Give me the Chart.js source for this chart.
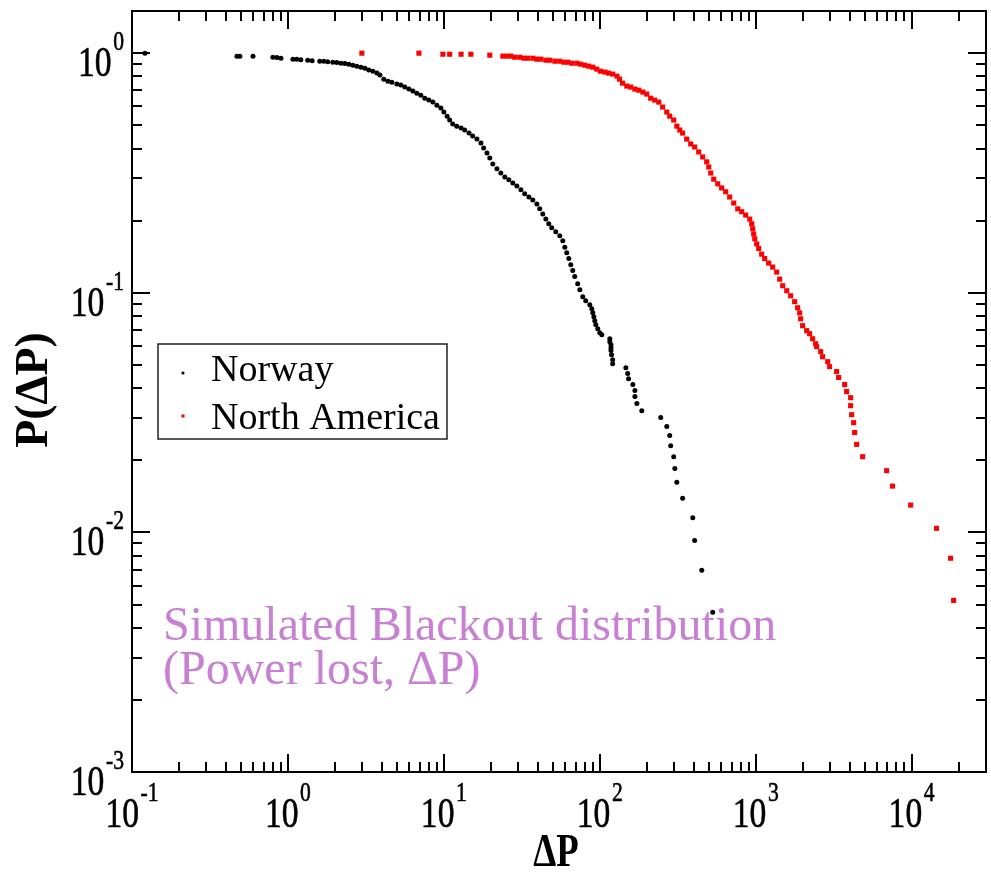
<!DOCTYPE html>
<html>
<head>
<meta charset="utf-8">
<script src="https://cdn.jsdelivr.net/npm/chart.js@4.4.0/dist/chart.umd.min.js"></script>
<style>
  html, body { margin: 0; padding: 0; background: #fff; }
</style>
</head>
<body>
<canvas id="graphique" width="991" height="872"></canvas>
<script>
// Norway: power lost (MW) and cumulative probability
const norwayDP = [0.121, 0.471, 0.492, 0.597, 0.801, 0.850, 0.902, 1.077, 1.14, 1.21,
  1.34, 1.43, 1.60, 1.70, 1.80, 1.94, 2.06, 2.19, 2.32, 2.46,
  2.61, 2.77, 2.94, 3.12, 3.30, 3.51, 3.72, 3.89, 4.12, 4.38,
  4.64, 5.0, 5.30, 5.62, 5.97, 6.33, 6.71, 7.12, 7.55, 8.01,
  8.50, 9.02, 9.57, 10.0, 10.5, 10.9, 11.4, 12.1, 12.9, 13.6,
  14.5, 15.3, 16.3, 17.3, 18.0, 18.9, 19.7, 20.6, 21.9, 23.2,
  24.6, 26.1, 27.7, 29.4, 31.2, 33.0, 35.1, 37.2, 39.5, 41.2,
  43.1, 45.1, 47.1, 49.2, 52.2, 55.4, 57.9, 59.7, 61.4, 63.3,
  65.2, 67.1, 69.1, 72.2, 74.5, 77.8, 81.3, 86.3, 88.9, 90.2,
  91.6, 92.9, 94.3, 97.1, 100, 103,
  116, 116, 118, 118, 118, 119, 121, 121,
  147, 151, 153, 163, 168, 168, 173, 186,
  246, 269, 281, 285, 298, 303, 312, 340, 395, 406, 451, 530];
const norwayP = [1.0, 0.972, 0.972, 0.97, 0.962, 0.96, 0.953, 0.944, 0.944, 0.94,
  0.935, 0.93, 0.926, 0.925, 0.92, 0.917, 0.915, 0.908, 0.905, 0.90,
  0.891, 0.883, 0.874, 0.866, 0.85, 0.841, 0.826, 0.81, 0.779, 0.764,
  0.757, 0.743, 0.736, 0.722, 0.708, 0.695, 0.681, 0.668, 0.649, 0.637,
  0.625, 0.607, 0.590, 0.568, 0.546, 0.526, 0.506, 0.496, 0.487, 0.478,
  0.464, 0.451, 0.438, 0.422, 0.402, 0.383, 0.365, 0.345, 0.329, 0.316,
  0.304, 0.296, 0.287, 0.279, 0.269, 0.259, 0.251, 0.244, 0.235, 0.224,
  0.213, 0.203, 0.194, 0.187, 0.180, 0.173, 0.165, 0.155, 0.147, 0.139,
  0.131, 0.124, 0.117, 0.109, 0.103, 0.0962, 0.0926, 0.0891, 0.0858, 0.0825,
  0.0794, 0.0764, 0.0736, 0.0708, 0.0681, 0.0668,
  0.0643, 0.0625, 0.0607, 0.059, 0.0574, 0.0552, 0.0526, 0.0506,
  0.0487, 0.046, 0.0438, 0.0414, 0.0391, 0.0369, 0.0345, 0.0322,
  0.0302, 0.0277, 0.0254, 0.023, 0.0207, 0.0185, 0.0162, 0.0139, 0.0115, 0.00926, 0.00695, 0.00464];

// North America
const naDP = [2.98, 6.92, 9.86, 10.9, 12.9, 14.9, 19.7, 23.9, 25.4, 26.9,
  28.5, 30.7, 32.6, 34.5, 37.2, 39.5, 41.9, 45.1, 47.8, 51.5,
  55.4, 58.8, 62.4, 66.2, 71.3, 75.5, 80.2, 85.0, 90.2, 95.7,
  101, 108, 114, 121, 129, 134, 140, 149, 158, 168,
  178, 189, 200, 212, 225, 239, 253, 269, 281, 298,
  312, 326, 340, 361, 383, 406, 431, 457, 485, 500,
  515, 538, 571, 605, 642, 681, 723, 767, 813, 863,
  916, 943, 957, 971, 986, 1015, 1045, 1092, 1142, 1211,
  1285, 1364, 1426, 1490, 1581, 1676, 1778, 1858, 1914, 1941,
  2000, 2123, 2218, 2318, 2424, 2460, 2612, 2687, 2897, 2980,
  3304, 3404, 3720, 3830, 4064, 4064, 4125, 4249, 4313, 4440,
  4853, 6914, 7550, 9860, 14450, 17780, 18600];
const naP = [1.0, 1.0, 0.99, 0.99, 0.99, 0.99, 0.981, 0.972, 0.972, 0.972,
  0.962, 0.962, 0.953, 0.953, 0.953, 0.944, 0.944, 0.935, 0.935, 0.926,
  0.926, 0.917, 0.917, 0.908, 0.908, 0.90, 0.891, 0.883, 0.874, 0.858,
  0.841, 0.834, 0.826, 0.818, 0.802, 0.779, 0.75, 0.729, 0.722, 0.708,
  0.701, 0.688, 0.675, 0.649, 0.637, 0.625, 0.596, 0.568, 0.546, 0.526,
  0.496, 0.478, 0.464, 0.438, 0.418, 0.406, 0.387, 0.369, 0.352, 0.335,
  0.316, 0.298, 0.285, 0.274, 0.264, 0.251, 0.237, 0.224, 0.218, 0.211,
  0.203, 0.194, 0.185, 0.176, 0.168, 0.160, 0.153, 0.145, 0.139, 0.133,
  0.128, 0.122, 0.114, 0.107, 0.102, 0.0972, 0.0918, 0.0866, 0.0825, 0.0779,
  0.0729, 0.0695, 0.0675, 0.0643, 0.0613, 0.0596, 0.0568, 0.0541, 0.0516, 0.0492,
  0.0469, 0.0443, 0.0414, 0.0387, 0.0365, 0.0338, 0.031, 0.0287, 0.0261, 0.0233,
  0.0207, 0.0181, 0.0156, 0.013, 0.0104, 0.0078, 0.0052];

// axes: decades shown as 10^n
const xTickExp = [-1, 0, 1, 2, 3, 4];
const yTickExp = [0, -1, -2, -3];
const xRange = [0.1, 30000];
const yRange = [0.001, 1.5];

const seriesNames = ['Norway', 'North America'];
const xTitle = 'ΔP';
const yTitle = 'P(ΔP)';
const noteLines = ['Simulated Blackout distribution', '(Power lost, ΔP)'];

const SERIF = '"Liberation Serif", "Times New Roman", serif';

const toPoints = (xs, ys) => xs.map((x, i) => ({ x: x, y: ys[i] }));

// "10" with a raised exponent; anchor 'center' or 'right'
function drawPower(ctx, exp, x, baseline, anchor) {
  const sx = 0.8;
  ctx.save();
  ctx.translate(x, baseline);
  ctx.scale(sx, 1);
  ctx.fillStyle = '#000';
  ctx.strokeStyle = '#000';
  ctx.lineWidth = 0.6;
  ctx.textBaseline = 'alphabetic';
  ctx.textAlign = 'left';
  ctx.font = '42px ' + SERIF;
  const w10 = ctx.measureText('10').width;
  ctx.font = '27px ' + SERIF;
  const supTxt = String(exp);
  const wSup = ctx.measureText(supTxt).width;
  const total = w10 + 2 + wSup;
  const start = anchor === 'center' ? -total / 2 : -total;
  ctx.font = '42px ' + SERIF;
  ctx.fillText('10', start, 0);
  ctx.strokeText('10', start, 0);
  ctx.font = '27px ' + SERIF;
  ctx.fillText(supTxt, start + w10 + 2, -26);
  ctx.strokeText(supTxt, start + w10 + 2, -26);
  ctx.restore();
}

const cadrePlugin = {
  id: 'cadre',
  afterDraw(chart) {
    const ctx = chart.ctx;
    const a = chart.chartArea;
    const sx = chart.scales.x;
    const sy = chart.scales.y;
    ctx.save();
    ctx.strokeStyle = '#000';
    ctx.lineWidth = 2;
    ctx.strokeRect(a.left, a.top, a.right - a.left, a.bottom - a.top);

    // inward ticks on all four sides
    ctx.beginPath();
    for (let k = -1; k <= 4; k++) {
      for (let m = 1; m <= 9; m++) {
        const v = m * Math.pow(10, k);
        if (v < xRange[0] || v > xRange[1]) continue;
        const px = Math.round(sx.getPixelForValue(v));
        const len = m === 1 ? 18 : 10;
        ctx.moveTo(px, a.bottom); ctx.lineTo(px, a.bottom - len);
        ctx.moveTo(px, a.top); ctx.lineTo(px, a.top + len);
      }
    }
    for (let k = -3; k <= 0; k++) {
      for (let m = 1; m <= 9; m++) {
        const v = m * Math.pow(10, k);
        if (v < yRange[0] || v > yRange[1]) continue;
        const py = Math.round(sy.getPixelForValue(v));
        const len = m === 1 ? 18 : 10;
        ctx.moveTo(a.left, py); ctx.lineTo(a.left + len, py);
        ctx.moveTo(a.right, py); ctx.lineTo(a.right - len, py);
      }
    }
    ctx.stroke();

    // tick labels
    xTickExp.forEach(e => drawPower(ctx, e, sx.getPixelForValue(Math.pow(10, e)), 827, 'center'));
    yTickExp.forEach(e => drawPower(ctx, e, 124, sy.getPixelForValue(Math.pow(10, e)) + 23, 'right'));

    // axis titles
    ctx.fillStyle = '#000';
    ctx.font = 'bold 46px ' + SERIF;
    ctx.textAlign = 'center';
    ctx.textBaseline = 'alphabetic';
    ctx.save();
    ctx.translate(556, 866);
    ctx.scale(0.8, 1);
    ctx.fillText(xTitle, 0, 0);
    ctx.restore();
    ctx.save();
    ctx.translate(47, 390);
    ctx.rotate(-Math.PI / 2);
    ctx.fillText(yTitle, 0, 0);
    ctx.restore();

    // legend box
    ctx.lineWidth = 1.5;
    ctx.strokeStyle = '#222';
    ctx.strokeRect(158, 344, 289, 95);
    ctx.font = '38px ' + SERIF;
    ctx.textAlign = 'left';
    ctx.fillStyle = '#000';
    ctx.fillText(seriesNames[0], 211, 381);
    ctx.fillText(seriesNames[1], 211, 429);
    ctx.beginPath();
    ctx.arc(183, 373, 1.6, 0, Math.PI * 2);
    ctx.fill();
    ctx.fillStyle = '#ff0000';
    ctx.fillRect(181.5, 414.5, 3, 3);

    // note
    ctx.fillStyle = 'rgb(200,128,210)';
    ctx.font = '48px ' + SERIF;
    ctx.fillText(noteLines[0], 163, 640);
    ctx.fillText(noteLines[1], 163, 684);
    ctx.restore();
  }
};

new Chart(document.getElementById('graphique'), {
  type: 'scatter',
  data: {
    datasets: [
      {
        label: seriesNames[0],
        data: toPoints(norwayDP, norwayP),
        backgroundColor: '#000',
        borderColor: '#000',
        borderWidth: 0,
        pointRadius: 2.5,
        pointStyle: 'circle'
      },
      {
        label: seriesNames[1],
        data: toPoints(naDP, naP),
        backgroundColor: '#ff0000',
        borderColor: '#ff0000',
        borderWidth: 0,
        pointRadius: 3.6,
        pointStyle: 'rect'
      }
    ]
  },
  options: {
    responsive: false,
    animation: false,
    events: [],
    layout: { padding: { left: 132, right: 5, top: 11, bottom: 100 } },
    scales: {
      x: { type: 'logarithmic', min: xRange[0], max: xRange[1], display: false },
      y: { type: 'logarithmic', min: yRange[0], max: yRange[1], display: false }
    },
    plugins: {
      legend: { display: false },
      tooltip: { enabled: false }
    }
  },
  plugins: [cadrePlugin]
});
</script>
</body>
</html>
